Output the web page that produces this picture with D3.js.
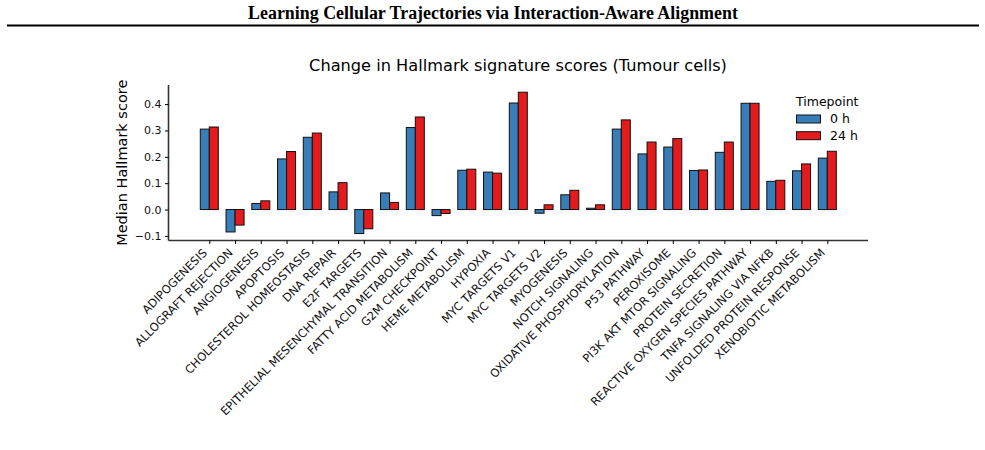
<!DOCTYPE html>
<html>
<head>
<meta charset="utf-8">
<script src="https://cdn.jsdelivr.net/npm/d3@7"></script>
<style>
  body { margin: 0; background: #fff; }
  svg { display: block; }
</style>
</head>
<body>
<svg width="985" height="450"></svg>
<script>
var categories = ["ADIPOGENESIS", "ALLOGRAFT REJECTION", "ANGIOGENESIS", "APOPTOSIS",
    "CHOLESTEROL HOMEOSTASIS", "DNA REPAIR", "E2F TARGETS", "EPITHELIAL MESENCHYMAL TRANSITION",
    "FATTY ACID METABOLISM", "G2M CHECKPOINT", "HEME METABOLISM", "HYPOXIA", "MYC TARGETS V1",
    "MYC TARGETS V2", "MYOGENESIS", "NOTCH SIGNALING", "OXIDATIVE PHOSPHORYLATION", "P53 PATHWAY",
    "PEROXISOME", "PI3K AKT MTOR SIGNALING", "PROTEIN SECRETION", "REACTIVE OXYGEN SPECIES PATHWAY",
    "TNFA SIGNALING VIA NFKB", "UNFOLDED PROTEIN RESPONSE", "XENOBIOTIC METABOLISM"];
var score0h = [0.305, -0.085, 0.023, 0.192, 0.274, 0.067, -0.091, 0.063, 0.311, -0.023, 0.149, 0.142,
    0.404, -0.014, 0.056, 0.005, 0.305, 0.211, 0.237, 0.148, 0.217, 0.403, 0.107, 0.147, 0.195];
var score24h = [0.313, -0.059, 0.033, 0.220, 0.290, 0.102, -0.073, 0.027, 0.351, -0.015, 0.153, 0.138,
    0.445, 0.018, 0.073, 0.018, 0.340, 0.256, 0.269, 0.150, 0.256, 0.403, 0.111, 0.173, 0.221];
var series = ["0 h", "24 h"];
var yTicks = [-0.1, 0.0, 0.1, 0.2, 0.3, 0.4];

var svg = d3.select("svg");
var colors = {"0 h": "#377eb8", "24 h": "#e41a1c"};
var font = "'DejaVu Sans', sans-serif";

// page header
svg.append("text")
    .attr("x", 493).attr("y", 19)
    .attr("text-anchor", "middle")
    .style("font-family", "'Liberation Serif', 'Times New Roman', serif")
    .style("font-weight", "bold")
    .style("font-size", "17.9px")
    .text("Learning Cellular Trajectories via Interaction-Aware Alignment");
svg.append("line")
    .attr("x1", 7).attr("x2", 979).attr("y1", 25.5).attr("y2", 25.5)
    .attr("stroke", "#000").attr("stroke-width", 2);

var plot = {left: 168.5, right: 868, top: 85, bottom: 240.5};

var x = d3.scalePoint().domain(categories).range([209.3, 827.3]);
var y = d3.scaleLinear().domain([-0.1174, 0.4723]).range([plot.bottom, plot.top]);
var barW = x.step() * 0.35;

var g = svg.append("g").style("font-family", font);

var rows = categories.map(function(c, i) {
    return {cat: c, values: [{key: "0 h", v: score0h[i]}, {key: "24 h", v: score24h[i]}]};
});

g.selectAll(".pair")
    .data(rows)
    .enter()
    .append("g")
    .attr("class", "pair")
    .selectAll("rect")
    .data(function(d) { return d.values.map(function(s, j) { return {cat: d.cat, key: s.key, v: s.v, j: j}; }); })
    .enter()
    .append("rect")
    .attr("x", function(d) { return x(d.cat) - barW + d.j * barW; })
    .attr("y", function(d) { return y(Math.max(0, d.v)); })
    .attr("width", barW)
    .attr("height", function(d) { return Math.abs(y(d.v) - y(0)); })
    .attr("fill", function(d) { return colors[d.key]; })
    .attr("stroke", "#111")
    .attr("stroke-width", 1);

// y axis
var yAxis = g.append("g")
    .attr("transform", "translate(" + plot.left + ",0)")
    .call(d3.axisLeft(y).tickValues(yTicks).tickFormat(d3.format(".1f")).tickSize(3.5).tickPadding(3.5));
yAxis.select(".domain").attr("stroke", "#333").attr("stroke-width", 1.6)
    .attr("d", "M0," + plot.top + "V" + plot.bottom);
yAxis.selectAll("text")
    .style("font-family", font)
    .style("font-size", "11px")
    .attr("fill", "#111");

// x axis
var xAxis = g.append("g")
    .attr("transform", "translate(0," + plot.bottom + ")")
    .call(d3.axisBottom(x).tickSize(3.5).tickPadding(2));
xAxis.select(".domain").attr("stroke", "#333").attr("stroke-width", 1.6)
    .attr("d", "M" + plot.left + ",0H" + plot.right);
xAxis.selectAll("text")
    .style("font-family", font)
    .style("font-size", "11.5px")
    .attr("fill", "#111")
    .attr("text-anchor", "end")
    .attr("dy", "0")
    .attr("transform", "translate(-2,13) rotate(-45)")
    .attr("y", 0).attr("x", 0);

// titles
g.append("text")
    .attr("x", 518).attr("y", 71)
    .attr("text-anchor", "middle")
    .style("font-size", "16.2px")
    .text("Change in Hallmark signature scores (Tumour cells)");
g.append("text")
    .attr("transform", "translate(127," + ((plot.top + plot.bottom) / 2) + ") rotate(-90)")
    .attr("text-anchor", "middle")
    .style("font-size", "14.5px")
    .text("Median Hallmark score");

// legend
var leg = g.append("g").attr("transform", "translate(796,0)");
leg.append("text").attr("x", 0).attr("y", 105.5).style("font-size", "12.5px").text("Timepoint");
series.forEach(function(s, i) {
    leg.append("rect")
        .attr("x", 0.5).attr("y", 115 + i * 16.7)
        .attr("width", 24).attr("height", 8)
        .attr("fill", colors[s]).attr("stroke", "#111");
    leg.append("text")
        .attr("x", 34).attr("y", 123 + i * 16.7)
        .style("font-size", "12.5px")
        .text(s);
});
</script>
</body>
</html>
